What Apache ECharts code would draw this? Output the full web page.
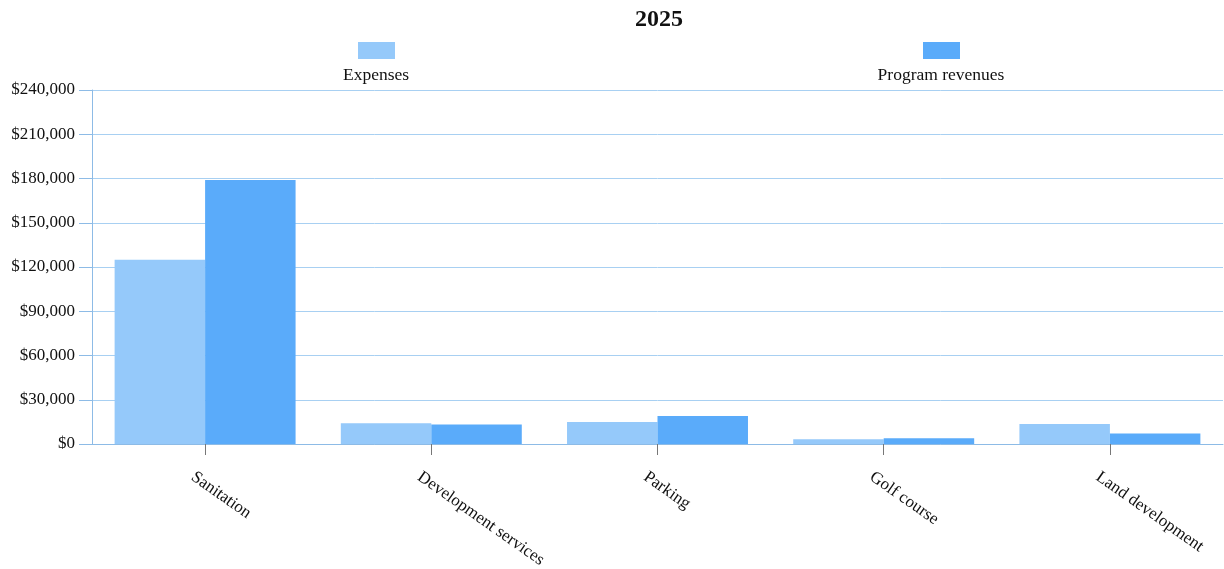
<!DOCTYPE html>
<html>
<head>
<meta charset="utf-8">
<script src="https://cdn.jsdelivr.net/npm/echarts@6/dist/echarts.min.js"></script>
<style>
  html, body { margin: 0; padding: 0; background: #fff; }
  #chart { width: 1224px; height: 569px; }
</style>
</head>
<body>
<div id="chart"></div>
<script>
// chart data
const categories = ['Sanitation', 'Development services', 'Parking', 'Golf course', 'Land development']
const expenses = [125000, 14000, 15000, 3200, 13600]
const programRevenues = [179000, 13300, 19000, 3900, 7200]
const seriesNames = ['Expenses', 'Program revenues']
const yTicks = [0, 30000, 60000, 90000, 120000, 150000, 180000, 210000, 240000]

const serif = '"Liberation Serif", "DejaVu Serif", serif'
const colors = ['#95c9fa', '#5aabfa']

let myChart = echarts.init(document.getElementById('chart'))

let option = {
    animation: false,
    textStyle: { fontFamily: serif },
    title: {
        text: '2025',
        left: 654,
        textAlign: 'center',
        top: 3,
        textStyle: { fontFamily: serif, fontSize: 24, fontWeight: 'bold', color: '#111' }
    },
    // icons only, labels sit under them (graphic below)
    legend: [
        {
            data: [seriesNames[0]],
            left: 353,
            top: 37,
            icon: 'rect',
            itemWidth: 37,
            itemHeight: 17,
            formatter: function () { return '' }
        },
        {
            data: [seriesNames[1]],
            left: 918,
            top: 37,
            icon: 'rect',
            itemWidth: 37,
            itemHeight: 17,
            formatter: function () { return '' }
        }
    ],
    graphic: [
        {
            type: 'text',
            x: 376,
            y: 75,
            style: { text: seriesNames[0], font: '17.5px ' + serif, fill: '#111', align: 'center', verticalAlign: 'middle' }
        },
        {
            type: 'text',
            x: 941,
            y: 75,
            style: { text: seriesNames[1], font: '17.5px ' + serif, fill: '#111', align: 'center', verticalAlign: 'middle' }
        }
    ],
    grid: {
        left: 92,
        right: 1,
        top: 90,
        bottom: 125,
        containLabel: false,
        outerBoundsMode: 'none'
    },
    xAxis: {
        type: 'category',
        data: categories,
        axisLine: { lineStyle: { color: '#8dbbe6', width: 1 } },
        axisTick: { show: true, alignWithLabel: true, length: 11, lineStyle: { color: '#777' } },
        axisLabel: {
            rotate: -35,
            margin: 40,
            padding: [0, 0, 0, -15],
            interval: 0,
            fontFamily: serif,
            fontSize: 17,
            color: '#111'
        }
    },
    yAxis: {
        type: 'value',
        min: yTicks[0],
        max: yTicks[yTicks.length - 1],
        interval: yTicks[1] - yTicks[0],
        axisLine: { show: true, lineStyle: { color: '#8dbbe6' } },
        axisTick: { show: true, length: 13, lineStyle: { color: '#8dbbe6' } },
        splitLine: { lineStyle: { color: '#a8d0f2', width: 1 } },
        axisLabel: {
            margin: 17,
            fontFamily: serif,
            fontSize: 17,
            color: '#111',
            formatter: function (v) { return '$' + v.toLocaleString('en-US') }
        }
    },
    series: [
        {
            name: seriesNames[0],
            type: 'bar',
            data: expenses,
            itemStyle: { color: colors[0] },
            barGap: '0%',
            barCategoryGap: '20%'
        },
        {
            name: seriesNames[1],
            type: 'bar',
            data: programRevenues,
            itemStyle: { color: colors[1] },
            barGap: '0%',
            barCategoryGap: '20%'
        }
    ]
}

myChart.setOption(option)
</script>
</body>
</html>
